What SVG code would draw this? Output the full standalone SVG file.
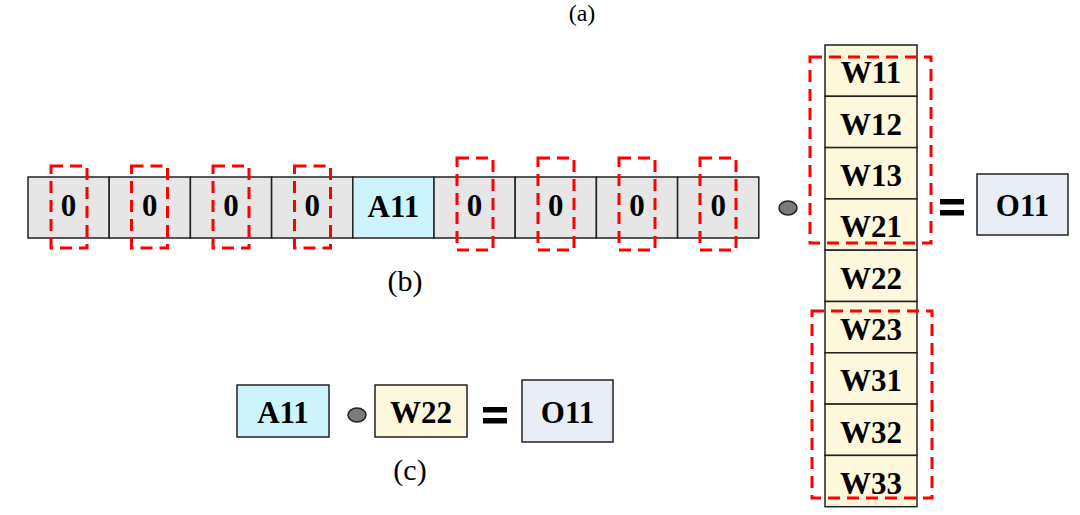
<svg xmlns="http://www.w3.org/2000/svg" width="1080" height="515" viewBox="0 0 1080 515">
<style>
.cell{stroke:#222;stroke-width:1.5}
.g{fill:#e6e6e6}
.a{fill:#cdf3fc}
.w{fill:#fdf7dc}
.o{fill:#e9eef6}
.t{font-family:"Liberation Serif","Times New Roman",serif;font-weight:bold;font-size:31px;fill:#000;text-anchor:middle}
.lab{font-family:"Liberation Serif","Times New Roman",serif;font-size:30px;fill:#000;text-anchor:middle}
.red{fill:none;stroke:#ff0000;stroke-width:3;stroke-dasharray:12,7}
.dot{fill:#7a7a7a;stroke:#222;stroke-width:1.5}
.eq{fill:#000}
</style>
<rect width="1080" height="515" fill="#fff"/>
<text class="lab" x="582" y="21" style="font-size:24px">(a)</text>

<g id="row-b">
<g id="c1"><rect class="cell g" x="28" y="177" width="81.2" height="61"/><text class="t" x="68.6" y="216">0</text></g>
<g id="c2"><rect class="cell g" x="109.2" y="177" width="81.2" height="61"/><text class="t" x="149.8" y="216">0</text></g>
<g id="c3"><rect class="cell g" x="190.4" y="177" width="81.2" height="61"/><text class="t" x="231" y="216">0</text></g>
<g id="c4"><rect class="cell g" x="271.6" y="177" width="81.2" height="61"/><text class="t" x="312.2" y="216">0</text></g>
<g id="c5"><rect class="cell a" x="352.8" y="177" width="81.2" height="61"/><text class="t" x="393.4" y="217">A11</text></g>
<g id="c6"><rect class="cell g" x="434" y="177" width="81.2" height="61"/><text class="t" x="474.6" y="216">0</text></g>
<g id="c7"><rect class="cell g" x="515.2" y="177" width="81.2" height="61"/><text class="t" x="555.8" y="216">0</text></g>
<g id="c8"><rect class="cell g" x="596.4" y="177" width="81.2" height="61"/><text class="t" x="637" y="216">0</text></g>
<g id="c9"><rect class="cell g" x="677.6" y="177" width="81.2" height="61"/><text class="t" x="718.2" y="216">0</text></g>
</g>

<g id="col-w">
<g id="w11"><rect class="cell w" x="825" y="45" width="92" height="51.3"/><text class="t" x="871" y="83">W11</text></g>
<g id="w12"><rect class="cell w" x="825" y="96.3" width="92" height="51.3"/><text class="t" x="871" y="134.5">W12</text></g>
<g id="w13"><rect class="cell w" x="825" y="147.6" width="92" height="51.3"/><text class="t" x="871" y="186">W13</text></g>
<g id="w21"><rect class="cell w" x="825" y="198.9" width="92" height="51.3"/><text class="t" x="871" y="237">W21</text></g>
<g id="w22"><rect class="cell w" x="825" y="250.2" width="92" height="51.3"/><text class="t" x="871" y="289">W22</text></g>
<g id="w23"><rect class="cell w" x="825" y="301.5" width="92" height="51.3"/><text class="t" x="871" y="340">W23</text></g>
<g id="w31"><rect class="cell w" x="825" y="352.8" width="92" height="51.3"/><text class="t" x="871" y="391">W31</text></g>
<g id="w32"><rect class="cell w" x="825" y="404.1" width="92" height="51.3"/><text class="t" x="871" y="442.5">W32</text></g>
<g id="w33"><rect class="cell w" x="825" y="455.4" width="92" height="51.3"/><text class="t" x="871" y="494">W33</text></g>
</g>

<g id="op-b">
<ellipse class="dot" cx="788" cy="208" rx="9" ry="7"/>
<rect class="eq" x="940" y="199" width="24" height="5.5"/>
<rect class="eq" x="940" y="210" width="24" height="5.5"/>
</g>
<g id="o11-b"><rect class="cell o" x="977" y="174" width="91" height="61"/><text class="t" x="1022.5" y="216">O11</text></g>

<g id="highlights">
<rect class="red" x="51" y="166" width="36" height="82"/>
<rect class="red" x="131.5" y="166" width="36" height="82"/>
<rect class="red" x="213" y="166" width="36" height="82"/>
<rect class="red" x="294.5" y="166" width="36" height="82"/>
<rect class="red" x="457" y="158" width="36" height="92"/>
<rect class="red" x="538" y="158" width="36" height="92"/>
<rect class="red" x="619" y="158" width="36" height="92"/>
<rect class="red" x="700" y="158" width="36" height="92"/>
<rect class="red" x="810" y="57" width="121" height="186"/>
<rect class="red" x="812" y="311" width="120" height="187"/>
</g>

<text class="lab" x="405" y="291">(b)</text>

<g id="a11-c"><rect class="cell a" x="237" y="385" width="92" height="52"/><text class="t" x="283" y="423">A11</text></g>
<ellipse class="dot" cx="357" cy="415" rx="9" ry="7"/>
<g id="w22-c"><rect class="cell w" x="375" y="385" width="92" height="52"/><text class="t" x="421" y="423">W22</text></g>
<rect class="eq" x="483" y="407" width="24" height="5.5"/>
<rect class="eq" x="483" y="418" width="24" height="5.5"/>
<g id="o11-c"><rect class="cell o" x="522" y="380" width="91" height="62"/><text class="t" x="567.5" y="423">O11</text></g>
<text class="lab" x="410" y="480">(c)</text>
</svg>
